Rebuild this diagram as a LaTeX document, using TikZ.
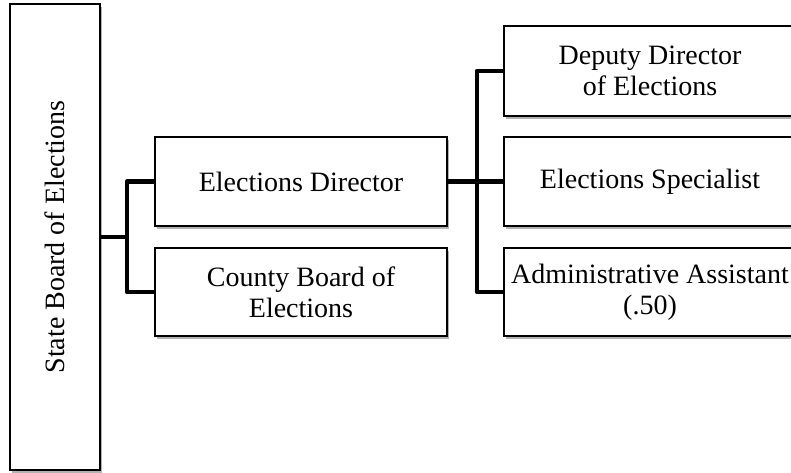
\documentclass[tikz,border=0pt]{standalone}
\usepackage{fontspec}
\setmainfont{Liberation Serif}
\usetikzlibrary{shadows}
\tikzset{
  box/.style={draw=black, line width=2.8pt, fill=white, inner sep=2pt, align=center,
    minimum width=292pt, font=\fontsize{28}{31}\selectfont,
    drop shadow={shadow xshift=1.5pt, shadow yshift=-2.5pt, opacity=0.3, fill=black}},
  conn/.style={draw=black, line width=4.5pt, line join=round}
}
\begin{document}
\begin{tikzpicture}[x=1pt,y=-1pt]
\useasboundingbox (0,0) rectangle (791,472);
\clip (0,0) rectangle (791,472);
\node[box, minimum width=90pt, minimum height=466pt] (State) at (55,237) {};
\node[rotate=90, font=\fontsize{28}{31}\selectfont] (StateText) at (State.center) {State Board of Elections};
\node[box, minimum height=89pt] (ED) at (301,181.5) {Elections Director};
\node[box, minimum height=88pt] (CB) at (301,292) {County Board of\\Elections};
\node[box, minimum height=90pt] (DD) at (650,71) {Deputy Director\\of Elections};
\node[box, minimum height=89pt] (ES) at (650,181.5) {Elections Specialist};
\node[box, minimum height=88pt] (AA) at (650,292) {Administrative Assistant\\(.50)};
\coordinate (j1) at (127,0);
\coordinate (j2) at (477,0);
\draw[conn] (State.east) -- (j1 |- State.east);
\draw[conn] (ED.west) -- (j1 |- ED.west) -- (j1 |- CB.west) -- (CB.west);
\draw[conn] (ED.east) -- (ES.west);
\draw[conn] (DD.west) -- (j2 |- DD.west) -- (j2 |- AA.west) -- (AA.west);
\end{tikzpicture}
\end{document}
